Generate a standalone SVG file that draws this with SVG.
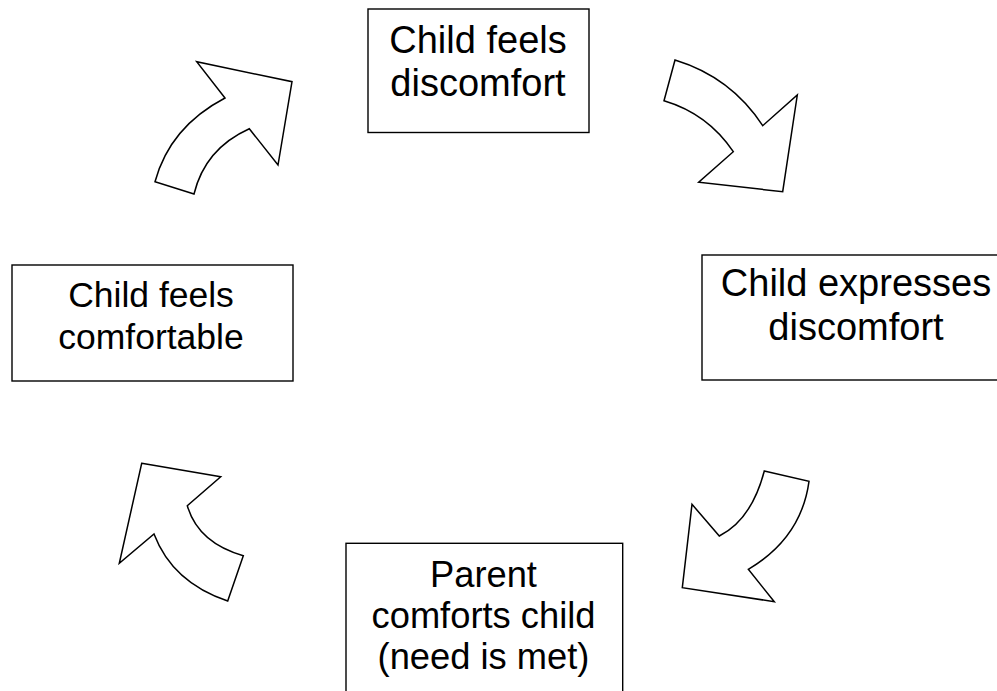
<svg xmlns="http://www.w3.org/2000/svg" width="997" height="691" viewBox="0 0 997 691">
<style>
.box{fill:#fff;stroke:#000;stroke-width:1.4}
.arr{fill:#fff;stroke:#000;stroke-width:1.5;stroke-linejoin:miter}
text{font-family:"Liberation Sans",Arial,sans-serif;fill:#000;text-anchor:middle}
</style>
<rect width="997" height="691" fill="#fff"/>
<g id="connectors">
<path class="arr" d="M155,181.7 Q170,126.8 225,98 L196.7,61.7 L292,81.7 L278,165 L249.3,128.7 Q205,148.7 194,194 Z"/>
<path class="arr" d="M675,60 Q731.2,77.2 762.7,125.7 L797.3,95 L782.7,191.7 L698.7,182.3 L733.3,151.7 Q708,113.8 664,100.7 Z"/>
<path class="arr" d="M764.3,471 L809,481.3 Q801.3,538 748.3,569.3 L774.3,601.7 L682.3,587.7 L692,504.3 L719.3,536 Q751.5,519.8 764.3,471 Z"/>
<path class="arr" d="M141.7,463.3 L220.7,476.7 L187.3,505.7 Q198,542.7 243.3,555.7 L227.7,601 Q172.5,582.5 154,534 L119.3,563.3 Z"/>
</g>
<g id="n1">
<rect class="box" x="368" y="9" width="221" height="123.5"/>
<text x="478" y="53" font-size="38">Child feels</text>
<text x="478" y="96" font-size="38">discomfort</text>
</g>
<g id="n2">
<rect class="box" x="702" y="255" width="300" height="125"/>
<text x="856" y="296" font-size="38">Child expresses</text>
<text x="856" y="340" font-size="38">discomfort</text>
</g>
<g id="n3">
<rect class="box" x="346" y="543.3" width="276.7" height="160"/>
<text x="483.5" y="587" font-size="36.3">Parent</text>
<text x="483.5" y="628" font-size="36.3">comforts child</text>
<text x="483.5" y="669" font-size="36.3">(need is met)</text>
</g>
<g id="n4">
<rect class="box" x="12" y="265" width="281" height="116"/>
<text x="151" y="307" font-size="35.5">Child feels</text>
<text x="151" y="349" font-size="35.5">comfortable</text>
</g>
</svg>
